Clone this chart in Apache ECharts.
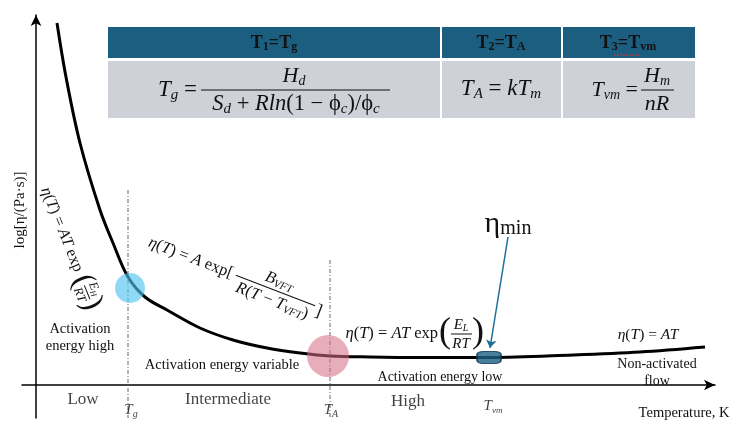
<!DOCTYPE html>
<html><head><meta charset="utf-8">
<script src="https://cdn.jsdelivr.net/npm/echarts@6/dist/echarts.min.js"></script>
<style>html,body{margin:0;padding:0;background:#fff}#c{width:736px;height:423px}</style>
</head><body><div id="c"></div>
<script>
// ---- data (x: temperature position, y: log viscosity position, arbitrary units) ----
const curveT      = [21, 30, 44, 64, 77, 92, 109, 131, 164, 197, 231, 264, 294, 334, 384, 453, 537, 604, 669];
const curveLogEta = [362, 308, 242, 175, 142, 108, 88, 75, 57, 45, 37, 32, 29, 28, 27.5, 27.5, 30, 33, 38];
const regionLabels = ['Low', 'Intermediate', 'High'];
const regionT      = [47, 192, 372];
const regionY      = [-15, -15, -17];
const transLabels  = ['{t|T}{s|g}', '{t|T}{s|A}', '{t|T}{v|vm}'];
const transT       = [95, 295, 457];
const transY       = [-25, -25, -21];
const boundaryT    = [92, 294];
const boundaryTop  = [195, 125];
const axisBottom   = -33;
const highlightT   = [94, 292];
const highlightEta = [97, 29];
const highlightCol = ['rgba(80,196,240,0.8)', 'rgba(214,108,134,0.7)'];
const highlightSz  = [30, 42];
const minPoint     = [453, 27.5];
const minArrowFrom = [472, 148];
const minArrowTo   = [454, 37];

const SERIF = '"Liberation Serif", "DejaVu Serif", serif';
const chart = echarts.init(document.getElementById('c'), null, {renderer: 'canvas'});

const mathRich = (size) => ({
  m: {fontFamily: SERIF, fontStyle: 'italic', fontSize: size, lineHeight: size + 2, color: '#111'},
  u: {fontFamily: SERIF, fontSize: size, lineHeight: size + 2, color: '#111'},
  s: {fontFamily: SERIF, fontStyle: 'italic', fontSize: Math.round(size * 0.65), lineHeight: Math.round(size * 0.45), verticalAlign: 'bottom', color: '#111'}
});
function T(x, y, text, size, opt) {
  opt = opt || {};
  return {
    type: 'text', x: x, y: y, z: 50, rotation: opt.rotation || 0,
    style: {
      text: text, fill: opt.fill || '#111',
      font: (opt.italic ? 'italic ' : '') + (opt.bold ? 'bold ' : '') + size + 'px ' + SERIF,
      align: opt.align || 'center', verticalAlign: opt.va || 'middle',
      textAlign: opt.align || 'center', textVerticalAlign: opt.va || 'middle',
      lineHeight: opt.lh || undefined,
      rich: opt.rich || mathRich(size)
    }
  };
}
function L(x1, y1, x2, y2, w, c, dash) {
  return {type: 'line', z: 50, shape: {x1: x1, y1: y1, x2: x2, y2: y2}, style: {stroke: c || '#111', lineWidth: w || 1, lineDash: dash || null}};
}
const headRich = {
  b: {fontFamily: SERIF, fontWeight: 'bold', fontSize: 18, lineHeight: 20, color: '#fff'},
  s: {fontFamily: SERIF, fontWeight: 'bold', fontSize: 12, lineHeight: 10, verticalAlign: 'bottom', color: '#fff'}
};

const graphics = [
  // table
  {type: 'rect', z: 40, shape: {x: 108, y: 27, width: 587, height: 31}, style: {fill: '#1b5e80'}},
  {type: 'rect', z: 40, shape: {x: 108, y: 61, width: 587, height: 57}, style: {fill: '#ced1d7'}},
  {type: 'rect', z: 41, shape: {x: 440, y: 27, width: 2, height: 91}, style: {fill: '#fff'}},
  {type: 'rect', z: 41, shape: {x: 561, y: 27, width: 2, height: 91}, style: {fill: '#fff'}},
  T(274, 43, '{b|T}{s|1}{b|=T}{s|g}', 18, {rich: headRich}),
  T(501, 43, '{b|T}{s|2}{b|=T}{s|A}', 18, {rich: headRich}),
  T(628, 43, '{b|T}{s|3}{b|=T}{s|vm}', 18, {rich: headRich}),
  L(614, 55, 640, 55, 1, '#d33', [2, 1]),
  T(197, 90, '{m|T}{s|g}{u| =}', 23, {align: 'right'}),
  L(201, 90, 390, 90, 1.2),
  T(294, 76, '{m|H}{s|d}', 22),
  T(296, 104, '{m|S}{s|d}{u| + }{m|Rln}{u|(1 − ϕ}{s|c}{u|)/ϕ}{s|c}', 22.5),
  T(501, 89, '{m|T}{s|A}{u| = }{m|kT}{s|m}', 23),
  T(638, 90, '{m|T}{s|vm}{u| =}', 22, {align: 'right'}),
  L(641, 90, 674, 90, 1.2),
  T(657, 76, '{m|H}{s|m}', 22),
  T(657, 104, '{m|nR}', 22),
  // axis titles
  T(20, 210, 'log[η/(Pa·s)]', 15, {rotation: Math.PI / 2, rich: {}}),
  T(684, 413, 'Temperature, K', 14.5, {rich: {}}),
  // region descriptions
  T(80, 338, 'Activation\nenergy high', 14.5, {lh: 17, rich: {}}),
  T(222, 365, 'Activation energy variable', 14.5, {rich: {}}),
  T(440, 377, 'Activation energy low', 14, {rich: {}}),
  T(657, 373, 'Non-activated\nflow', 14, {lh: 17, rich: {}}),
  // formulas
  T(648, 335, '{m|η}{u|(}{m|T}{u|) = }{m|AT}', 15.5),
  T(438, 334, '{m|η}{u|(}{m|T}{u|) = }{m|AT}{u| exp}', 16.5, {align: 'right'}),
  T(445, 333, '(', 36, {rich: {}}),
  T(478, 333, ')', 36, {rich: {}}),
  T(461, 325, '{m|E}{s|L}', 15),
  L(451, 334, 472, 334, 1),
  T(461, 344, '{m|RT}', 15),
  {type: 'group', x: 45, y: 188, rotation: -68 * Math.PI / 180, children: [
    T(0, 0, '{m|η}{u|(}{m|T}{u|) = }{m|AT}{u| exp}', 16, {align: 'left'}),
    T(100, 0, '(', 32, {rich: {}}),
    T(112, -8, '{m|E}{s|H}', 12.5),
    L(105, 0, 120, 0, 1),
    T(112, 8, '{m|RT}', 12.5),
    T(125, 0, ')', 32, {rich: {}})
  ]},
  {type: 'group', x: 149, y: 242, rotation: -21 * Math.PI / 180, children: [
    T(0, 0, '{m|η}{u|(}{m|T}{u|) = }{m|A}{u| exp[}', 16.5, {align: 'left'}),
    L(93, 0, 178, 0, 1),
    T(136, -10, '{m|B}{s|VFT}', 16.5),
    T(136, 11, '{m|R}{u|(}{m|T}{u| − }{m|T}{s|VFT}{u|)}', 16.5),
    T(183, 4, ']', 18, {rich: {}})
  ]},
  // eta_min label
  T(508, 224, '{e|η}{s|min}', 28, {rich: {
    e: {fontFamily: SERIF, fontSize: 30, lineHeight: 30, color: '#111'},
    s: {fontFamily: SERIF, fontSize: 20, lineHeight: 16, verticalAlign: 'bottom', color: '#111'}
  }})
];

const labelRich = {
  r: {fontFamily: SERIF, fontSize: 17, color: '#111'},
  t: {fontFamily: SERIF, fontStyle: 'italic', fontSize: 15, lineHeight: 18, color: '#111'},
  s: {fontFamily: SERIF, fontStyle: 'italic', fontSize: 10, lineHeight: 10, verticalAlign: 'bottom', color: '#111'},
  v: {fontFamily: SERIF, fontStyle: 'italic', fontSize: 9, lineHeight: 12, verticalAlign: 'bottom', color: '#111'}
};

const hiddenAxis = {
  type: 'value', axisTick: {show: false}, axisLabel: {show: false}, splitLine: {show: false},
  axisLine: {show: true, onZero: true, symbol: ['none', 'arrow'], symbolSize: [8, 11], lineStyle: {color: '#000', width: 1.5}}
};

const series = [
  {
    type: 'line', name: 'viscosity', data: curveT.map((t, i) => [t, curveLogEta[i]]),
    smooth: 0.35, symbol: 'none', lineStyle: {color: '#000', width: 3}, z: 5, silent: true
  },
  ...boundaryT.map((t, i) => ({
    type: 'line', data: [[t, boundaryTop[i]], [t, axisBottom]], symbol: 'none', z: 3, silent: true,
    lineStyle: {color: '#666', width: 1, type: [4, 2, 1, 2]}
  })),
  {
    type: 'scatter', z: 6, silent: true,
    data: highlightT.map((t, i) => ({value: [t, highlightEta[i]], symbolSize: highlightSz[i], itemStyle: {color: highlightCol[i]}}))
  },
  {
    type: 'scatter', z: 7, silent: true, symbol: 'roundRect', symbolSize: [24, 12],
    data: [minPoint], itemStyle: {color: '#1a5f82', borderColor: '#0b3550', borderWidth: 1.2}
  },
  {
    type: 'lines', coordinateSystem: 'cartesian2d', z: 7, silent: true,
    symbol: ['none', 'arrow'], symbolSize: 8,
    lineStyle: {color: '#1f6e96', width: 1.5, opacity: 1},
    data: [{coords: [minArrowFrom, minArrowTo]}]
  },
  {
    type: 'scatter', z: 8, silent: true, symbolSize: 1, itemStyle: {color: 'rgba(0,0,0,0)'},
    data: regionT.map((t, i) => ({value: [t, regionY[i]], name: regionLabels[i]})),
    label: {show: true, position: 'inside', formatter: p => '{r|' + p.name + '}', rich: labelRich}
  },
  {
    type: 'scatter', z: 8, silent: true, symbolSize: 1, itemStyle: {color: 'rgba(0,0,0,0)'},
    data: transT.map((t, i) => ({value: [t, transY[i]], name: transLabels[i]})),
    label: {show: true, position: 'inside', formatter: p => p.name, rich: labelRich}
  }
];

chart.setOption({
  animation: false,
  backgroundColor: '#fff',
  grid: {left: 22, right: 21, top: 15, bottom: 5, containLabel: false},
  xAxis: Object.assign({}, hiddenAxis, {min: -14, max: 679}),
  yAxis: Object.assign({}, hiddenAxis, {min: -33, max: 370}),
  series: series,
  graphic: graphics
});
</script>
</body></html>
